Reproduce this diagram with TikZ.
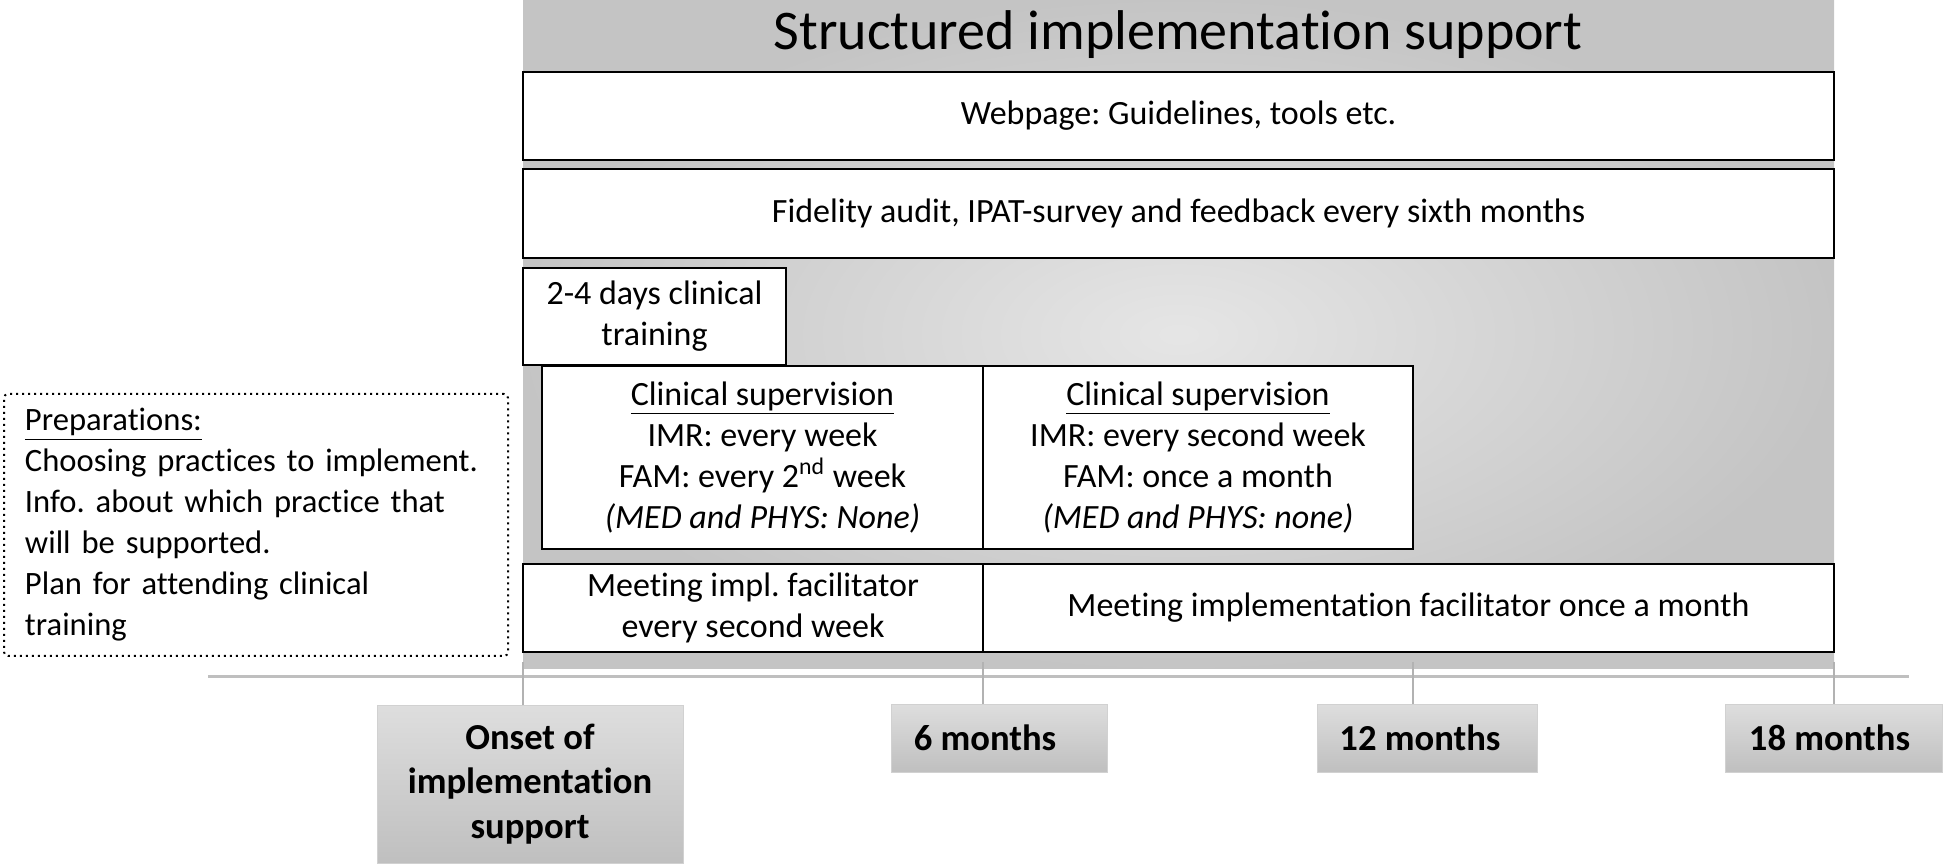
\documentclass[tikz,border=0pt]{standalone}
\usepackage{fontspec}
\setmainfont[RawFeature=-liga]{Carlito}
\frenchspacing
\begin{document}
\begin{tikzpicture}[x=0.5pt, y=-0.5pt,
    box/.style={draw, line width=1.2pt, fill=white, inner sep=0pt, align=center,
        font=\fontsize{17}{20.5}\selectfont},
    tlabel/.style={draw=black!18, top color=black!13, bottom color=black!25,
        inner sep=0pt, align=center, font=\fontsize{18.3}{22.3}\selectfont\bfseries},
    tickline/.style={black!30, line width=0.8pt}]
    \useasboundingbox (0,0) rectangle (1944,865);

    % Background panel
    \shade[inner color=black!10, outer color=black!23] (523,0) rectangle (1834,669);
    \node (title) at (1178,35) {\fontsize{28}{33}\selectfont Structured implementation support};

    % Timeline
    \draw[black!25, line width=1.5pt] (208,677) -- (1909,677);
    \coordinate (t0) at (523,662);
    \coordinate (t6) at (983,662);
    \coordinate (t12) at (1413,662);
    \coordinate (t18) at (1834,662);

    % Support activities
    \node[box, minimum width=655.5pt, minimum height=44pt] (web) at (1178.5,116)
        {Webpage: Guidelines, tools etc.};
    \node[box, minimum width=655.5pt, minimum height=44.5pt] (fid) at (1178.5,213.5)
        {Fidelity audit, IPAT-survey and feedback every sixth months};
    \node[box, minimum width=131.5pt, minimum height=48.5pt] (train) at (654.5,316.5)
        {2-4 days clinical\\training};
    \node[box, minimum width=220.5pt, minimum height=91.5pt] (sup1) at (762.5,457.5)
        {\underline{Clinical supervision}\\IMR: every week\\FAM: every 2\textsuperscript{nd} week\\\textit{(MED and PHYS: None)}};
    \node[box, minimum width=215pt, minimum height=91.5pt] (sup2) at (1198,457.5)
        {\underline{Clinical supervision}\\IMR: every second week\\FAM: once a month\\\textit{(MED and PHYS: none)}};
    \node[box, minimum width=230pt, minimum height=44pt] (meet1) at (753,608)
        {Meeting impl. facilitator\\every second week};
    \node[box, minimum width=425.5pt, minimum height=44pt] (meet2) at (1408.5,608)
        {Meeting implementation facilitator once a month};

    % Preparations
    \node[draw, dotted, line width=1pt, rounded corners=2pt, inner xsep=10.5pt, inner ysep=0pt,
        text width=231pt, minimum height=131pt, align=left,
        font=\fontsize{16.3}{20.5}\selectfont] (prep) at (256,525)
        {\hyphenpenalty=10000 \underline{Preparations:}\\Choosing practices to implement.\\Info. about which practice that\\will be supported.\\Plan for attending clinical\\training};

    % Time labels
    \node[tlabel, minimum width=153pt, minimum height=79pt] (onset) at (530,784)
        {Onset of\\implementation\\support};
    \node[tlabel, minimum width=108pt, minimum height=34pt] (six) at (999,738)
        {\hspace*{-14pt}6 months};
    \node[tlabel, minimum width=110pt, minimum height=34pt] (twelve) at (1427,738)
        {\hspace*{-7pt}12 months};
    \node[tlabel, minimum width=108.5pt, minimum height=34pt] (eighteen) at (1833.5,738)
        {\hspace*{-4pt}18 months};

    % Ticks
    \draw[tickline] (t0) -- (t0 |- onset.north);
    \draw[tickline] (t6) -- (t6 |- six.north);
    \draw[tickline] (t12) -- (t12 |- twelve.north);
    \draw[tickline] (t18) -- (t18 |- eighteen.north);

\end{tikzpicture}
\end{document}
